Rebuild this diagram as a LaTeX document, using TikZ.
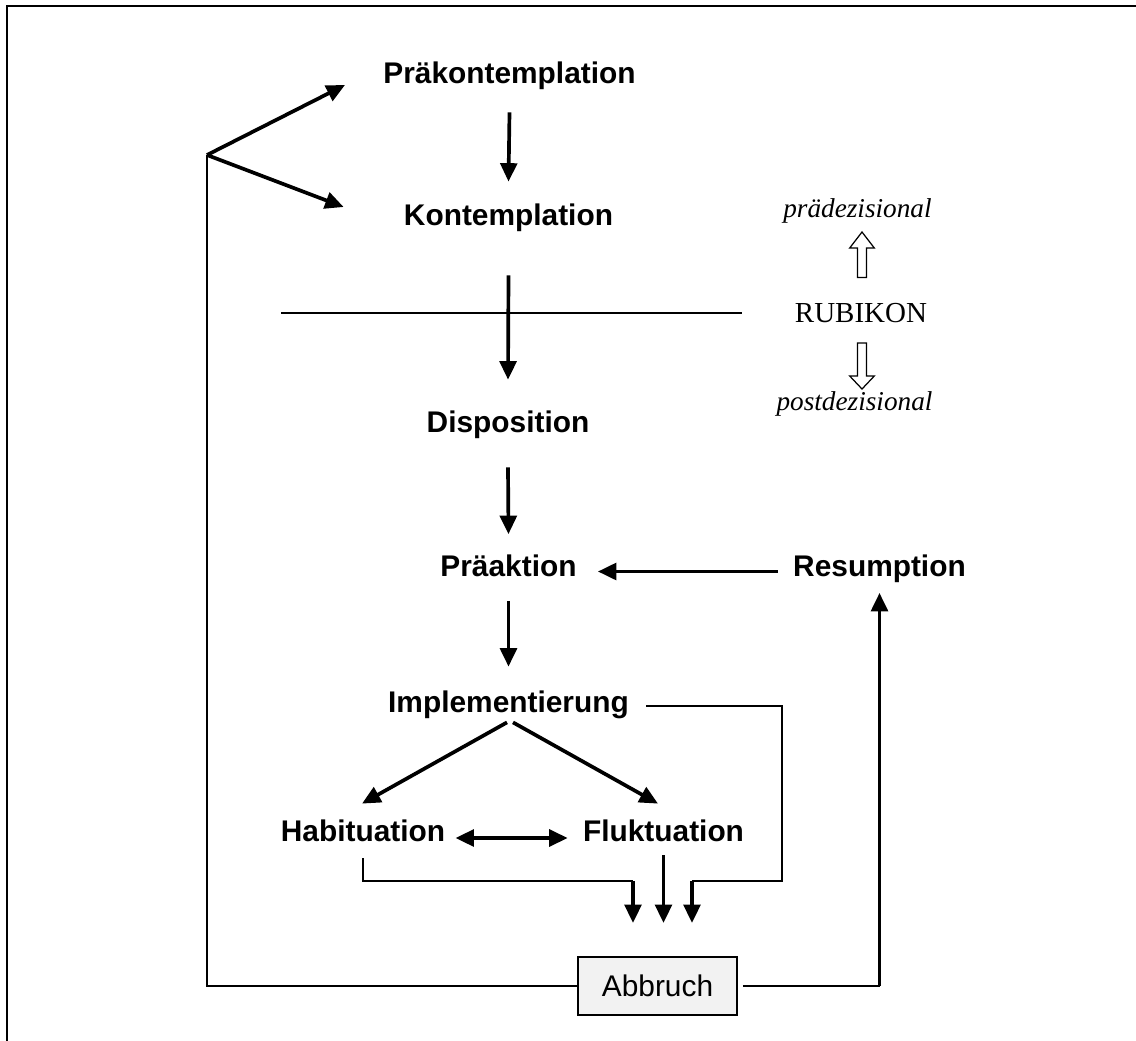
\documentclass[tikz,border=0pt]{standalone}
\usepackage{fontspec}
\setmainfont{Liberation Serif}
\newfontfamily\lab{Liberation Sans}
\usetikzlibrary{arrows.meta}

\tikzset{
  lbl/.style={font=\lab\bfseries\fontsize{17}{20}\selectfont, inner sep=0pt,
              text height=12pt, text depth=0pt},
  tip/.style={Triangle[length=10.5pt,width=9.5pt]},
  arr/.style={line width=2.1pt, -{Triangle[length=10.5pt,width=9.5pt]}},
  dbl/.style={line width=2.1pt,
              {Triangle[length=10.5pt,width=9.5pt]}-{Triangle[length=10.5pt,width=9.5pt]}},
  thinline/.style={line width=1.1pt},
  hollow/.style={draw, line width=0.7pt, fill=white, line join=miter},
  srf/.style={inner sep=0pt, anchor=base},
  boxed/.style={draw, line width=1.1pt, fill=gray!10, minimum width=3.18cm,
                minimum height=1.16cm, inner sep=0pt,
                font=\lab\fontsize{17}{20}\selectfont},
}

\begin{document}
\begin{tikzpicture}[x=0.02cm, y=-0.02cm]
  \useasboundingbox (0,0) rectangle (1136,1041);
  \clip (0,0) rectangle (1136,1041);

  % outer frame (runs off the right and bottom edges)
  \draw[line width=1.6pt] (7,1060) -- (7,6) -- (1160,6);

  % stages
  \node[lbl] (prak)  at (509.5, 72.5) {Präkontemplation};
  \node[lbl] (kont)  at (508.5,214.5) {Kontemplation};
  \node[lbl] (disp)  at (508.0,421.5) {Disposition};
  \node[lbl] (praa)  at (508.5,566.0) {Präaktion};
  \node[lbl] (resu)  at (879.5,566.0) {Resumption};
  \node[lbl] (impl)  at (508.5,701.5) {Implementierung};
  \node[lbl] (habit) at (363.0,830.5) {Habituation};
  \node[lbl] (fluk)  at (663.5,830.5) {Fluktuation};
  \node[boxed] (abb) at (657.5,986) {Abbruch};

  % Rubikon side labels
  \node[srf, font=\fontsize{16.5}{20}\selectfont] (rubi) at (861,322) {RUBIKON};
  \node[srf, font=\itshape\fontsize{15.5}{20}\selectfont] (pre) at (857.5,217) {prädezisional};
  \node[srf, font=\itshape\fontsize{15.5}{20}\selectfont] (post) at (854.5,410) {postdezisional};

  % hollow direction arrows
  \draw[hollow] (857.5,277.5) -- (857.5,248) -- (849.7,248) -- (862,232)
    -- (874.3,248) -- (866.5,248) -- (866.5,277.5) -- cycle;
  \draw[hollow] (857.5,343) -- (866.5,343) -- (866.5,376) -- (874.3,376)
    -- (862,389) -- (849.7,376) -- (857.5,376) -- cycle;

  % Rubikon line
  \coordinate (rl) at (281,0);
  \draw[thinline] (rl |- rubi.west) -- ([xshift=-1.06cm]rubi.west);

  % main sequence
  \draw[arr] ([yshift=-0.58cm]prak.south) -- ([yshift=0.44cm]kont.north);
  \draw[arr] ([yshift=-1.00cm]kont.south) -- ([yshift=0.62cm]disp.north);
  \draw[arr] ([yshift=-0.70cm]disp.south) -- ([yshift=0.42cm]praa.north);
  \draw[arr] ([yshift=-0.48cm]praa.south) -- ([yshift=0.48cm]impl.north);
  \draw[arr] ([xshift=-0.30cm,yshift=-0.11cm]resu.west)
          -- ([xshift=0.42cm,yshift=-0.11cm]praa.east);

  % branching after implementation
  \draw[arr] ([xshift=-0.03cm,yshift=-0.2cm]impl.south)
          -- ([xshift=-0.02cm,yshift=0.32cm]habit.north);
  \draw[arr] ([xshift=0.09cm,yshift=-0.2cm]impl.south)
          -- ([xshift=-0.11cm,yshift=0.32cm]fluk.north);
  \draw[dbl] ([xshift=0.2cm,yshift=-0.15cm]habit.east)
          -- ([xshift=-0.3cm,yshift=-0.15cm]fluk.west);

  % routes into Abbruch
  \coordinate (j1)  at (633,881);
  \coordinate (in1) at (633,923);
  \coordinate (in2) at (663,923);
  \coordinate (j3)  at (692,881);
  \coordinate (in3) at (692,923);
  \coordinate (jr)  at (782,881);
  \draw[thinline] ([yshift=-0.34cm]habit.south) |- (j1);
  \draw[arr] (j1) -- (in1);
  \draw[arr] ([yshift=-0.28cm]fluk.south) -- (fluk.south |- in2);
  \draw[thinline] ([xshift=0.34cm,yshift=-0.09cm]impl.east) -| (jr) -- (j3);
  \draw[arr] (j3) -- (in3);

  % return paths from Abbruch
  \coordinate (split) at (207,155);
  \draw[thinline] (abb.west) -| (split);
  \draw[arr] (split) -- ([xshift=-0.76cm,yshift=-0.25cm]prak.west);
  \draw[arr] (split) -- ([xshift=-1.2cm,yshift=0.15cm]kont.west);
  \draw[thinline, shorten <=0.1cm] (abb.east) -- (resu.south |- abb.east);
  \draw[arr] (resu.south |- abb.east) -- ([yshift=-0.32cm]resu.south);
\end{tikzpicture}
\end{document}
